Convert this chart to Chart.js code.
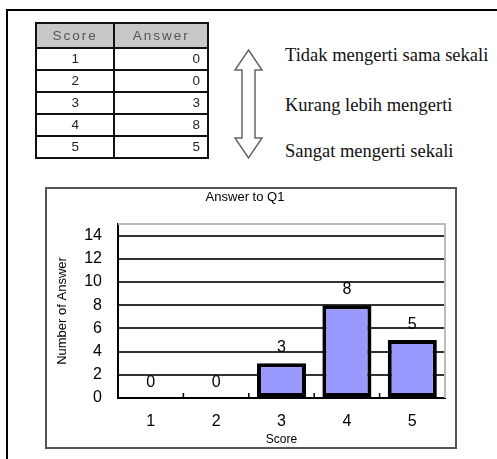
<!DOCTYPE html>
<html>
<head>
<meta charset="utf-8">
<script src="https://cdn.jsdelivr.net/npm/chart.js@4"></script>
<style>
  html, body { margin: 0; padding: 0; background: #fff; width: 497px; height: 459px; overflow: hidden; position: relative; }
  #frame { position: absolute; left: 6px; top: 9px; width: 600px; height: 600px; border: 2px solid #000; }
  #scoreTable { position: absolute; left: 35px; top: 22px; width: 174px; border-collapse: collapse;
    font-family: "Liberation Sans", Arial, sans-serif; font-size: 13.5px; color: #222; filter: blur(0.4px); }
  #scoreTable th, #scoreTable td { border: 2px solid #111; padding: 0 7px; line-height: 14px; }
  #scoreTable th { height: 23px; background: #c8c8c8; color: #555; font-weight: normal; letter-spacing: 2px; }
  #scoreTable td { height: 20px; }
  #scoreTable td.score { text-align: center; }
  #scoreTable td.answer { text-align: right; }
  #arrow { position: absolute; left: 233px; top: 48px; }
  .level { position: absolute; left: 285px; font-family: "Liberation Serif", "Times New Roman", serif; font-size: 18.5px; line-height: 18.5px; color: #111; white-space: nowrap; }
  #chartBox { position: absolute; left: 45px; top: 187px; width: 412px; height: 262px; border: 2px solid #555; box-sizing: border-box; }
  #chart { position: absolute; left: 45px; top: 187px; }
</style>
</head>
<body>
<div id="frame"></div>
<table id="scoreTable"></table>
<svg id="arrow" width="32" height="114">
  <polygon points="15.5,2 29,22 22,22 22,90 29,90 15.5,110 2,90 9,90 9,22 2,22"
           fill="#fff" stroke="#666" stroke-width="1.5"/>
</svg>
<div id="levels"></div>
<div id="chartBox"></div>
<canvas id="chart" width="412" height="262"></canvas>
<script>
const headers = ['Score', 'Answer'];
const scores = ['1', '2', '3', '4', '5'];
const answers = [0, 0, 3, 8, 5];
const yTicks = [0, 2, 4, 6, 8, 10, 12, 14];
const levelLabels = ['Tidak mengerti sama sekali', 'Kurang lebih mengerti', 'Sangat mengerti sekali'];
const levelTops = [46, 95.5, 141.5];

// table of scores and answer counts
const table = document.getElementById('scoreTable');
let html = '<tr><th>' + headers[0] + '</th><th>' + headers[1] + '</th></tr>';
scores.forEach((s, i) => {
  html += '<tr><td class="score">' + s + '</td><td class="answer">' + answers[i] + '</td></tr>';
});
table.innerHTML = html;

// scale descriptions next to the arrow
const levels = document.getElementById('levels');
levelLabels.forEach((t, i) => {
  const d = document.createElement('div');
  d.className = 'level';
  d.style.top = levelTops[i] + 'px';
  d.textContent = t;
  levels.appendChild(d);
});

Chart.defaults.font.family = '"Liberation Sans", Arial, sans-serif';

// light frame on top/right of the plot and short ticks between categories
const plotFrame = {
  id: 'plotFrame',
  beforeDatasetsDraw(chart) {
    const { ctx, chartArea: a, scales: { x } } = chart;
    ctx.save();
    ctx.strokeStyle = '#bbb';
    ctx.lineWidth = 2;
    ctx.beginPath();
    ctx.moveTo(a.left, a.top);
    ctx.lineTo(a.right, a.top);
    ctx.lineTo(a.right, a.bottom);
    ctx.stroke();
    ctx.strokeStyle = '#000';
    ctx.lineWidth = 1.5;
    ctx.beginPath();
    for (let i = 1; i < scores.length; i++) {
      const px = (x.getPixelForValue(i - 1) + x.getPixelForValue(i)) / 2;
      ctx.moveTo(px, a.bottom);
      ctx.lineTo(px, a.bottom - 5);
    }
    ctx.stroke();
    ctx.restore();
  }
};

// value above each bar
const valueLabels = {
  id: 'valueLabels',
  afterDatasetsDraw(chart) {
    const { ctx } = chart;
    const meta = chart.getDatasetMeta(0);
    ctx.save();
    ctx.font = '16px "Liberation Sans", Arial, sans-serif';
    ctx.fillStyle = '#000';
    ctx.textAlign = 'center';
    ctx.textBaseline = 'alphabetic';
    meta.data.forEach((bar, i) => {
      ctx.fillText(String(answers[i]), bar.x, bar.y - 11);
    });
    ctx.restore();
  }
};

new Chart(document.getElementById('chart'), {
  type: 'bar',
  data: {
    labels: scores,
    datasets: [{
      data: answers,
      backgroundColor: '#9999ff',
      borderColor: '#000',
      borderWidth: 4,
      borderSkipped: false,
      barPercentage: 0.75,
      categoryPercentage: 1
    }]
  },
  options: {
    responsive: false,
    animation: false,
    devicePixelRatio: 1,
    layout: { padding: { left: 0, right: 12, top: 0, bottom: 0 } },
    plugins: {
      legend: { display: false },
      tooltip: { enabled: false },
      title: {
        display: true,
        text: 'Answer to Q1',
        color: '#000',
        font: { size: 13, weight: 'normal' },
        padding: { top: 2.2, bottom: 19.2 }
      }
    },
    scales: {
      x: {
        grid: { display: false, drawTicks: true, tickLength: 14.4 },
        border: { color: '#000', width: 2 },
        ticks: { padding: 0, color: '#000', font: { size: 16 } },
        title: { display: true, text: 'Score', color: '#000', font: { size: 12 }, padding: { top: 1.2, bottom: 1.8 } }
      },
      y: {
        min: 0,
        max: 15,
        bounds: 'data',
        afterBuildTicks(scale) {
          scale.ticks = yTicks.map(v => ({ value: v }));
        },
        ticks: { padding: 0, color: '#000', font: { size: 16 } },
        grid: { color: '#333', lineWidth: 2, drawTicks: true, tickLength: 16, tickColor: 'transparent' },
        border: { color: '#000', width: 2 },
        title: { display: true, text: 'Number of Answer', color: '#000', font: { size: 13 }, padding: { top: 9.2, bottom: 14.4 } }
      }
    }
  },
  plugins: [plotFrame, valueLabels]
});
</script>
</body>
</html>
